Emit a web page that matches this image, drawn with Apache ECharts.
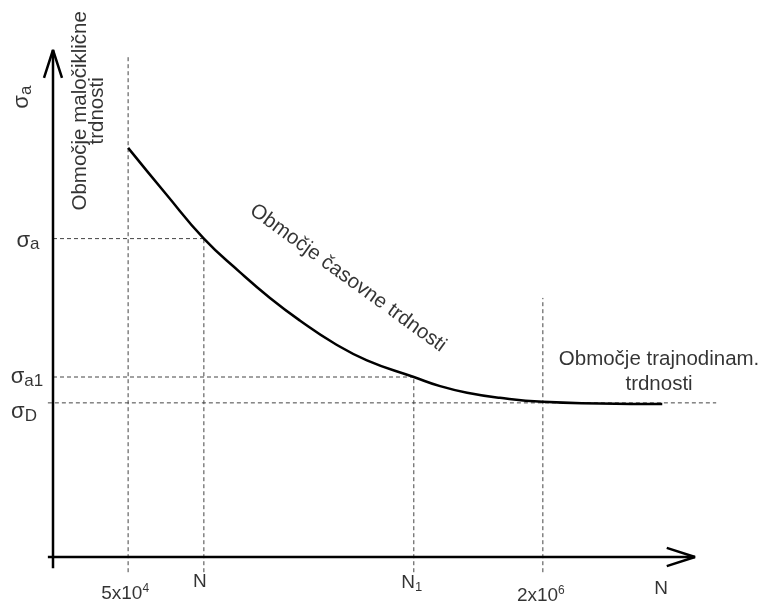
<!DOCTYPE html>
<html><head><meta charset="utf-8">
<script src="https://cdn.jsdelivr.net/npm/echarts@6/dist/echarts.min.js"></script>
<style>html,body{margin:0;padding:0;background:#fff}#c{width:764px;height:606px}</style>
</head><body><div id="c"></div>
<script>
// ---- data (schematic, relative units 0–100 on both axes) ----
const xTickLabels = ['5x10^4', 'N', 'N1', '2x10^6'];
const xTickPos = [11.7, 23.5, 56.2, 76.3];
const yLevelLabels = ['σa', 'σa1', 'σD'];
const yLevelPos = [62.8, 35.5, 30.4];
const curveN = [11.7, 17.6, 23.5, 29.1, 33.8, 38.5, 43.6, 48.9, 56.2, 60.3, 64.5, 69.6, 76.3, 85.2, 94.9];
const curveS = [80.7, 71.6, 62.8, 56.2, 51.1, 46.6, 42.3, 38.8, 35.5, 33.7, 32.4, 31.4, 30.6, 30.3, 30.2];
const vGuideTop = [99.0, 62.8, 35.5, 51.1];
const hGuideStart = [0, 0, -0.8];
const hGuideEnd = [23.5, 56.2, 103.3];
const regionLabels = ['Območje maločiklične\ntrdnosti', 'Območje časovne trdnosti', 'Območje trajnodinam.\ntrdnosti'];
const axisTitleX = 'N';
const axisTitleY = 'σa';

// ---- rendering ----
const FF = '"Liberation Sans", Arial, sans-serif';
const TXT = '#000';
const chart = echarts.init(document.getElementById('c'), null, {renderer: 'canvas'});
const series = [];

function line(points, style) {
  series.push({type: 'line', data: points, showSymbol: false, symbol: 'none', silent: true,
    clip: false, lineStyle: style, z: style.z || 2, animation: false});
}
const dash = {color: '#444', width: 1, type: [4, 3], z: 1};
const solid = {color: '#000', width: 2.5, z: 3};

// guides
xTickPos.forEach((x, i) => line([[x, -3.0], [x, vGuideTop[i]]], dash));
yLevelPos.forEach((y, i) => line([[hGuideStart[i], y], [hGuideEnd[i], y]], dash));

// axes with open arrow heads
line([[0, -2.2], [0, 100]], solid);
line([[-1.4, 94.5], [0, 100], [1.4, 94.5]], solid);
line([[-0.8, 0], [100, 0]], solid);
line([[95.6, 1.8], [100, 0], [95.6, -1.8]], solid);

// curve
series.push({type: 'line', data: curveN.map((n, i) => [n, curveS[i]]), smooth: 0.5,
  showSymbol: false, symbol: 'none', silent: true, lineStyle: {color: '#000', width: 2.5}, z: 4, animation: false});

function txt(x, y, label) {
  series.push({type: 'scatter', data: [[x, y]], symbolSize: 0, silent: true, clip: false, z: 10, animation: false,
    label: Object.assign({show: true, position: 'inside', color: TXT, fontFamily: FF, fontSize: 20.5}, label)});
}
const rich = {
  s: {fontFamily: FF, fontSize: 22, color: TXT},
  sb: {fontFamily: FF, fontSize: 17, color: TXT, padding: [8, 0, 0, 0]},
  m: {fontFamily: FF, fontSize: 19, color: TXT},
  ms: {fontFamily: FF, fontSize: 13, color: TXT, padding: [9, 0, 0, 0]},
  sp: {fontFamily: FF, fontSize: 12, color: TXT, padding: [0, 0, 10, 0]}
};
function fmtLevel(s) { return '{s|' + s[0] + '}{sb|' + s.slice(1) + '}'; }
function fmtTick(s) {
  if (s.indexOf('^') >= 0) { const p = s.split('^'); return '{m|' + p[0] + '}{sp|' + p[1] + '}'; }
  if (s.length > 1) return '{m|' + s[0] + '}{ms|' + s.slice(1) + '}';
  return '{m|' + s + '}';
}

// y level labels
const levelOffset = [[-25, 2], [-26, 0], [-29, 9]];
yLevelLabels.forEach((s, i) => txt(0, yLevelPos[i], {formatter: fmtLevel(s), rich, offset: levelOffset[i]}));
// x tick labels
const tickOffset = [[-3, 37], [-4, 25], [-2, 26], [-2, 39]];
xTickLabels.forEach((s, i) => txt(xTickPos[i], 0, {formatter: fmtTick(s), rich, offset: tickOffset[i]}));
// axis titles
txt(100, 0, {formatter: fmtTick(axisTitleX), rich, offset: [-34, 32]});
txt(-4.83, 90.7, {formatter: fmtLevel(axisTitleY), rich, rotate: 90});
// region labels
txt(5.53, 88.0, {formatter: regionLabels[0], rotate: 90, lineHeight: 17, align: 'center'});
txt(45.95, 55.0, {formatter: regionLabels[1], rotate: -36});
txt(94.4, 36.5, {formatter: regionLabels[2], lineHeight: 25, align: 'center'});

chart.setOption({
  animation: false,
  backgroundColor: '#fff',
  grid: {left: 1.64, right: 4.8, top: 4.37, bottom: 3.37},
  xAxis: {type: 'value', min: -8, max: 110, show: false},
  yAxis: {type: 'value', min: -9, max: 109, show: false},
  series
});
</script></body></html>
